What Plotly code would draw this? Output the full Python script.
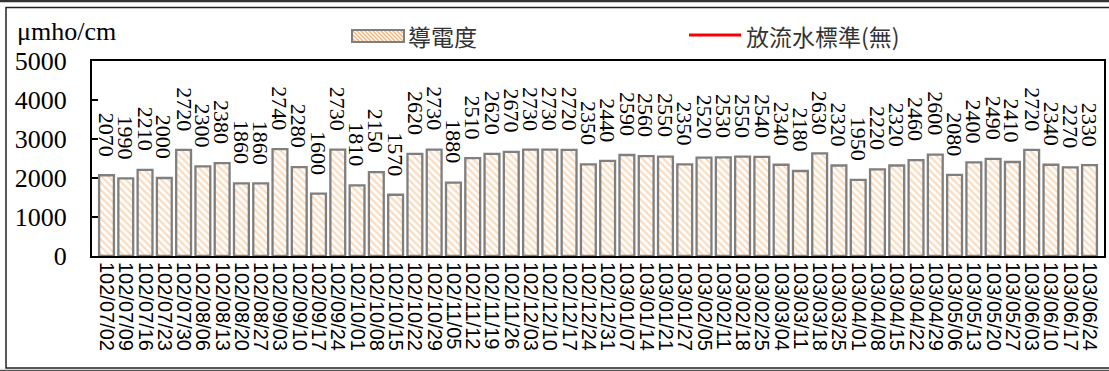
import plotly.graph_objects as go

dates = [
    "102/07/02", "102/07/09", "102/07/16", "102/07/23", "102/07/30",
    "102/08/06", "102/08/13", "102/08/20", "102/08/27", "102/09/03",
    "102/09/10", "102/09/17", "102/09/24", "102/10/01", "102/10/08",
    "102/10/15", "102/10/22", "102/10/29", "102/11/05", "102/11/12",
    "102/11/19", "102/11/26", "102/12/03", "102/12/10", "102/12/17",
    "102/12/24", "102/12/31", "103/01/07", "103/01/14", "103/01/21",
    "103/01/27", "103/02/05", "103/02/11", "103/02/18", "103/02/25",
    "103/03/04", "103/03/11", "103/03/18", "103/03/25", "103/04/01",
    "103/04/08", "103/04/15", "103/04/22", "103/04/29", "103/05/06",
    "103/05/13", "103/05/20", "103/05/27", "103/06/03", "103/06/10",
    "103/06/17", "103/06/24",
]
conductivity = [
    2070, 1990, 2210, 2000, 2720, 2300, 2380, 1860, 1860, 2740,
    2280, 1600, 2730, 1810, 2150, 1570, 2620, 2730, 1880, 2510,
    2620, 2670, 2730, 2730, 2720, 2350, 2440, 2590, 2560, 2550,
    2350, 2520, 2530, 2550, 2540, 2340, 2180, 2630, 2320, 1950,
    2220, 2320, 2460, 2600, 2080, 2400, 2490, 2410, 2720, 2340,
    2270, 2330,
]
y_ticks = [0, 1000, 2000, 3000, 4000, 5000]
bar_name = "導電度"
line_name = "放流水標準(無)"
unit_label = "μmho/cm"

W, H = 1109, 371
L, R, T, B = 92, 1104, 61, 256

def px(x):
    return (x - L) / (R - L)

def py(y):
    return (B - y) / (B - T)

ORANGE = "#F7B67A"
GRAY = "#7F7F7F"
SERIF = "Liberation Serif, Times New Roman, serif"
SANS = "Liberation Sans, Arial, sans-serif"
CJK = "Noto Sans CJK TC, sans-serif"

fig = go.Figure()
fig.add_trace(go.Bar(
    x=dates, y=conductivity, name=bar_name, showlegend=False,
    marker=dict(
        color="white",
        line=dict(color=GRAY, width=2.3),
        pattern=dict(shape="\\", fgcolor=ORANGE, bgcolor="white",
                     size=5, solidity=0.45, fillmode="overlay"),
    ),
    hoverinfo="x+y",
))

annotations = []
for d, v in zip(dates, conductivity):
    annotations.append(dict(
        x=d, y=v, xref="x", yref="y", text=str(v), showarrow=False,
        textangle=90, yanchor="bottom", xanchor="center", yshift=17,
        font=dict(family=SERIF, size=22, color="black"),
    ))

annotations.append(dict(
    x=px(15), y=py(31), xref="paper", yref="paper", text=unit_label,
    showarrow=False, xanchor="left", yanchor="middle",
    font=dict(family=SERIF, size=26, color="black"),
))
annotations.append(dict(
    x=px(406), y=py(36), xref="paper", yref="paper", text=bar_name,
    showarrow=False, xanchor="left", yanchor="middle",
    font=dict(family=CJK, size=23, color="#333333"),
))
annotations.append(dict(
    x=px(744), y=py(36), xref="paper", yref="paper", text=line_name,
    showarrow=False, xanchor="left", yanchor="middle",
    font=dict(family=CJK, size=23, color="#333333"),
))

shapes = []
# legend patch hatch
lx0, lx1, ly0, ly1 = 352, 404, 30, 42
h = ly1 - ly0
path = ""
x0 = lx0 - h
while x0 < lx1:
    t0 = max(0, lx0 - x0)
    t1 = min(h, lx1 - x0)
    if t1 > t0:
        path += "M%.4f,%.4f L%.4f,%.4f " % (px(x0 + t0), py(ly0 + t0), px(x0 + t1), py(ly0 + t1))
    x0 += 4
shapes.append(dict(type="path", xref="paper", yref="paper", path=path,
                   line=dict(color=ORANGE, width=1.6)))
shapes.append(dict(type="rect", xref="paper", yref="paper",
                   x0=px(lx0), x1=px(lx1), y0=py(ly0), y1=py(ly1),
                   line=dict(color=GRAY, width=2)))
# legend red line
shapes.append(dict(type="line", xref="paper", yref="paper",
                   x0=px(689), x1=px(741), y0=py(35), y1=py(35),
                   line=dict(color="#FF0000", width=3)))
# outer frame
shapes.append(dict(type="line", xref="paper", yref="paper",
                   x0=px(0), x1=px(W), y0=py(1), y1=py(1),
                   line=dict(color="#333333", width=2.5)))
shapes.append(dict(type="rect", xref="paper", yref="paper",
                   x0=px(6), x1=px(W + 5), y0=py(7.5), y1=py(368),
                   line=dict(color="#222222", width=1.5)))
shapes.append(dict(type="line", xref="paper", yref="paper",
                   x0=px(0), x1=px(W), y0=py(370.5), y1=py(370.5),
                   line=dict(color="#555555", width=1.5)))

fig.update_layout(
    width=W, height=H,
    margin=dict(l=L, r=W - R, t=T, b=H - B, pad=0, autoexpand=False),
    paper_bgcolor="white", plot_bgcolor="white",
    bargap=0.23,
    showlegend=False,
    annotations=annotations,
    shapes=shapes,
    xaxis=dict(
        type="category", tickangle=90, showgrid=False,
        tickmode="array", tickvals=dates, ticktext=dates,
        showline=True, linecolor="black", linewidth=2, mirror=True,
        ticks="", tickfont=dict(family=SANS, size=20, color="black"),
        automargin=False, fixedrange=True,
    ),
    yaxis=dict(
        range=[0, 5000], tickvals=y_ticks, showgrid=False, zeroline=False,
        showline=True, linecolor="black", linewidth=2, mirror=True,
        ticks="inside", ticklen=6, tickwidth=2, tickcolor="black",
        ticklabelstandoff=18, automargin=False,
        tickfont=dict(family=SERIF, size=26, color="black"),
        fixedrange=True,
    ),
)

fig.write_html(
    "out.html",
    config={"displayModeBar": False},
    post_script="document.body.style.margin='0px';document.body.style.overflow='hidden';",
)
